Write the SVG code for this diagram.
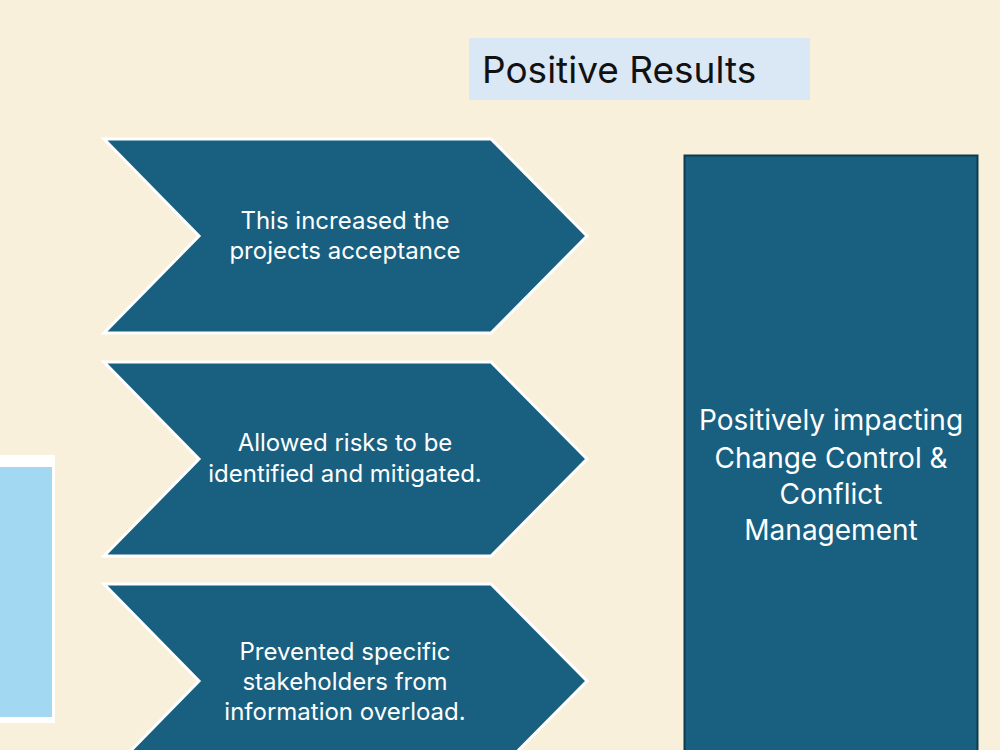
<svg xmlns="http://www.w3.org/2000/svg" width="1000" height="750" viewBox="0 0 1000 750">
<style>
.chev{fill:#185f80;stroke:#ffffff;stroke-width:3;stroke-linejoin:miter}
.ct{fill:#ffffff;font-family:Inter,"Liberation Sans",sans-serif;font-size:24px;text-anchor:middle}
.bt{fill:#ffffff;font-family:Inter,"Liberation Sans",sans-serif;font-size:28px;text-anchor:middle}
</style>
<rect x="0" y="0" width="1000" height="750" fill="#f8f0da"/>
<g id="title">
<rect x="469" y="38" width="341" height="62" fill="#dae7f5"/>
<text x="482" y="83" font-family="Inter,'Liberation Sans',sans-serif" font-size="37" fill="#111111">Positive Results</text>
</g>
<g id="left-box">
<rect x="-5" y="455" width="60" height="268" fill="#ffffff"/>
<rect x="-5" y="467" width="57" height="250" fill="#a2d8f1"/>
</g>
<g id="chevron1">
<polygon class="chev" points="104,139 491,139 587,236 491,333 104,333 199,236"/>
<text class="ct" x="345" y="229">This increased the</text>
<text class="ct" x="345" y="259">projects acceptance</text>
</g>
<g id="chevron2">
<polygon class="chev" points="104,362 491,362 587,459 491,556 104,556 199,459"/>
<text class="ct" x="345" y="451">Allowed risks to be</text>
<text class="ct" x="345" y="482">identified and mitigated.</text>
</g>
<g id="chevron3">
<polygon class="chev" points="104,584 491,584 587,681 491,778 104,778 199,681"/>
<text class="ct" x="345" y="660">Prevented specific</text>
<text class="ct" x="345" y="690">stakeholders from</text>
<text class="ct" x="345" y="720">information overload.</text>
</g>
<g id="result-box">
<rect x="684.5" y="155.5" width="293" height="610" fill="#185f80" stroke="#0e3a4f" stroke-width="2"/>
<text class="bt" x="831" y="430">Positively impacting</text>
<text class="bt" x="831" y="468">Change Control &amp;</text>
<text class="bt" x="831" y="504">Conflict</text>
<text class="bt" x="831" y="540">Management</text>
</g>
<g id="connectors"></g>
</svg>
